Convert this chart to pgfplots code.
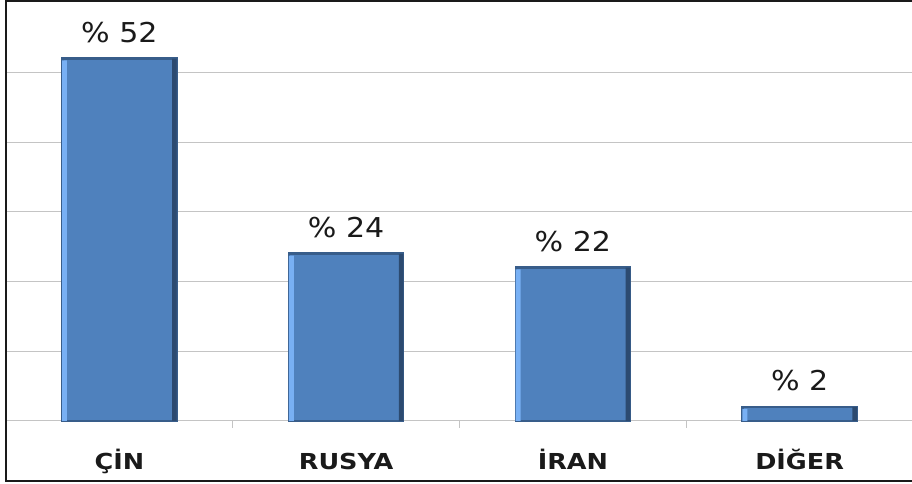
\documentclass[border=0pt]{standalone}
\usepackage{pgfplots}
\pgfplotsset{compat=1.18}
\usepackage{fontspec}
\setmainfont{DejaVu Sans}
\newfontfamily\valfont[FakeStretch=1.1]{DejaVu Sans}
\newfontfamily\catfont[FakeStretch=1.16]{DejaVu Sans Bold}
\definecolor{barmain}{HTML}{4F81BD}
\definecolor{bardark}{HTML}{385D8A}
\definecolor{bardarker}{HTML}{2C4A70}
\definecolor{barlight}{HTML}{78B0F4}
\definecolor{gridc}{HTML}{C4C4C4}
\definecolor{txt}{HTML}{1A1A1A}
\begin{document}
\begin{tikzpicture}
\path[use as bounding box] (0,0) rectangle (684pt,363pt);
\begin{axis}[at={(4.5pt,47.25pt)}, anchor=south west, scale only axis,
  width=680.25pt, height=313.5pt,
  xmin=-0.5, xmax=3.5, ymin=0, ymax=60,
  axis line style={draw=none},
  ytick={0,10,...,50}, yticklabels={}, ymajorgrids,
  major grid style={draw=gridc, line width=0.75pt},
  ytick style={draw=none},
  xtick={0,1,2,3}, xticklabels={ÇİN,RUSYA,İRAN,DİĞER},
  major x tick style={draw=none},
  minor xtick={-0.5,0.5,1.5,2.5,3.5},
  minor x tick style={draw=gridc, line width=0.75pt},
  minor tick length=5.25pt, tick align=outside, xtick pos=left,
  xticklabel style={font=\catfont\fontsize{16.5}{18}\selectfont, text=txt, anchor=base, yshift=-32.25pt},
  clip=false,
]
\addplot[ybar, bar width=0.503, bar shift=0, fill=barmain, draw=bardark, line width=2pt,
  point meta=explicit symbolic, nodes near coords,
  every node near coord/.append style={font=\valfont\fontsize{20.5}{22}\selectfont, text=txt, inner sep=0pt, yshift=11pt}]
  coordinates {(0,52) [\% 52] (1,24) [\% 24] (2,22) [\% 22] (3,2) [\% 2]};
\addplot[ybar, bar width=0.021, bar shift=-0.2415, fill=barlight, draw=none]
  coordinates {(0,51.75) (1,23.75) (2,21.75) (3,1.75)};
\addplot[ybar, bar width=0.019, bar shift=0.2425, fill=bardarker, draw=none]
  coordinates {(0,52) (1,24) (2,22) (3,2)};
\end{axis}
\draw[line width=1.5pt, draw=txt] (684pt,362.25pt) -- (4.5pt,362.25pt) -- (4.5pt,2.25pt) -- (684pt,2.25pt);
\end{tikzpicture}
\end{document}
